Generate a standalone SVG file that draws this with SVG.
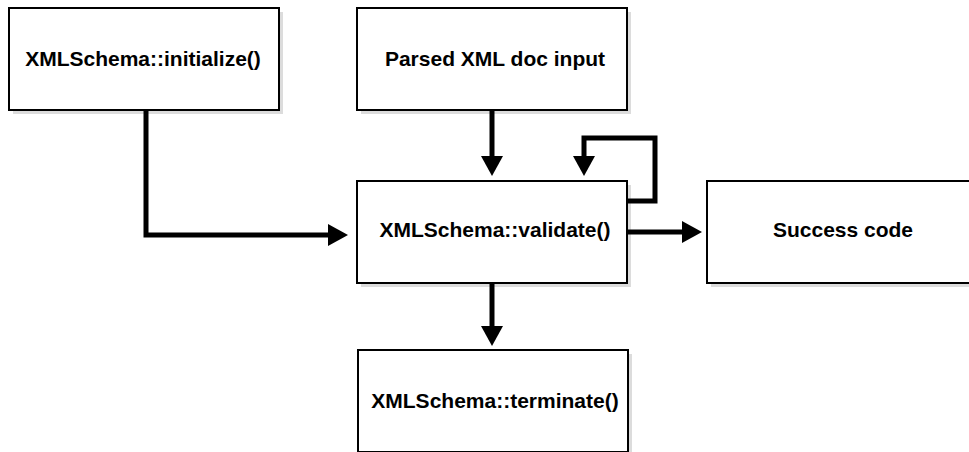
<svg xmlns="http://www.w3.org/2000/svg" width="969" height="452" viewBox="0 0 969 452">
<style>
.shadow{fill:#dcdcdc;stroke:none}
.box{fill:#fff;stroke:#000;stroke-width:2}
.lbl{font-family:"Liberation Sans",Arial,sans-serif;font-weight:bold;font-size:21px;fill:#000;text-anchor:middle;dominant-baseline:central}
.conn{fill:none;stroke:#000;stroke-width:5;stroke-linejoin:miter}
</style>
<defs>
<marker id="ah" markerUnits="userSpaceOnUse" markerWidth="22" markerHeight="22" refX="0" refY="11" orient="auto" viewBox="0 0 22 22">
<path d="M0,0 L20,11 L0,22 Z" fill="#000"/>
</marker>
</defs>
<rect width="969" height="452" fill="#fff"/>
<g id="init">
<rect class="shadow" x="13" y="12" width="270" height="102"/>
<rect class="box" x="9" y="8" width="270" height="102"/>
<text class="lbl" x="143" y="58">XMLSchema::initialize()</text>
</g>
<g id="parsed">
<rect class="shadow" x="361" y="12" width="270" height="102"/>
<rect class="box" x="357" y="8" width="270" height="102"/>
<text class="lbl" x="495" y="58">Parsed XML doc input</text>
</g>
<g id="validate">
<rect class="shadow" x="361" y="185" width="270" height="102"/>
<rect class="box" x="357" y="181" width="270" height="102"/>
<text class="lbl" x="495" y="229">XMLSchema::validate()</text>
</g>
<g id="success">
<rect class="shadow" x="711" y="185" width="270" height="102"/>
<rect class="box" x="707" y="181" width="270" height="102"/>
<text class="lbl" x="843" y="229">Success code</text>
</g>
<g id="terminate">
<rect class="shadow" x="362" y="354" width="270" height="102"/>
<rect class="box" x="358" y="350" width="270" height="102"/>
<text class="lbl" x="495" y="400">XMLSchema::terminate()</text>
</g>
<g id="connectors">
<path class="conn" d="M146,110 V235 H328" marker-end="url(#ah)"/>
<path class="conn" d="M492,111 V156" marker-end="url(#ah)"/>
<path class="conn" d="M627,201 H655 V138 H584 V156" marker-end="url(#ah)"/>
<path class="conn" d="M627,232 H682" marker-end="url(#ah)"/>
<path class="conn" d="M492,283 V326" marker-end="url(#ah)"/>
</g>
</svg>
